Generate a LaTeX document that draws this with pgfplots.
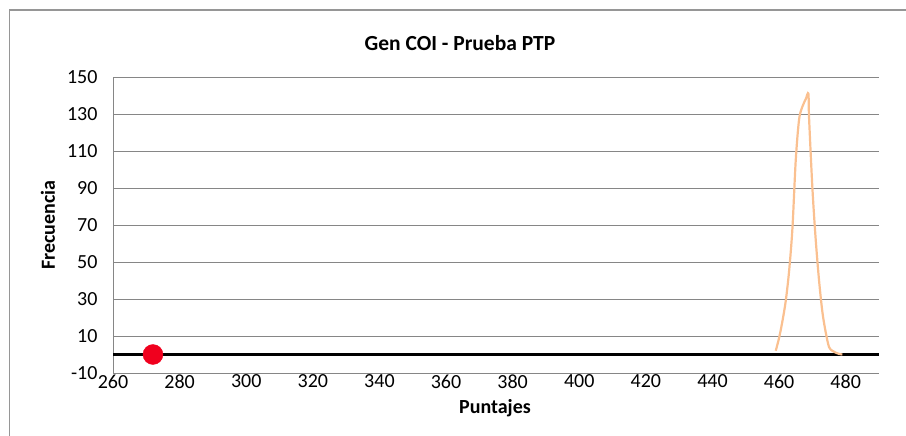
\documentclass[border=0pt]{standalone}
\usepackage{pgfplots}
\pgfplotsset{compat=1.18}
\usepackage{fontspec}
\setmainfont{Carlito}
\definecolor{gridgray}{RGB}{134,134,134}
\definecolor{framegray}{RGB}{150,150,150}
\definecolor{curveorange}{RGB}{250,192,144}
\definecolor{dotred}{RGB}{240,0,30}
\begin{document}
\begin{tikzpicture}[x=1pt,y=1pt]
\path[use as bounding box] (0,0) rectangle (906,436);
\draw[framegray, line width=1.5pt] (9.5,0) -- (9.5,426) -- (906,426);
\node[font=\fontsize{21.5}{21.5}\selectfont\bfseries] at (460,393) {Gen COI - Prueba PTP};
\node[font=\fontsize{20}{20}\selectfont\bfseries, rotate=90] at (48,211) {Frecuencia};
\node[font=\fontsize{20}{20}\selectfont\bfseries] at (495,28) {Puntajes};
\begin{axis}[at={(113pt,63pt)}, anchor=south west, width=766pt, height=296pt, scale only axis,
  xmin=260, xmax=490, ymin=-10, ymax=150,
  xtick={260,280,...,480}, ytick={-10,10,...,150},
  ymajorgrids, grid style={gridgray, line width=0.8pt},
  axis x line*=bottom, axis y line*=left,
  axis line style={gridgray, line width=0.8pt, -},
  major tick length=0pt,
  tick label style={font=\fontsize{20}{20}\selectfont},
  /pgf/number format/assume math mode=true,
  yticklabel style={xshift=-12pt},
  xticklabel style={yshift=2pt},
  clip=false]
\addplot[black, line width=2.2pt] coordinates {(260,0) (490,0)};
\addplot[curveorange, line width=2.2pt, smooth, tension=0.5] coordinates {
(459,2) (460,9) (461,18) (462,29) (463,45) (464,68) (465,105) (466,127)
(467,134) (468,138) (468.8,141) (469,128) (470,90) (471,62) (472,40)
(473,23) (474,12) (475,4) (476,2) (477,1) (478,0.3) (479,0)};
\addplot[only marks, mark=*, mark size=10pt, dotred] coordinates {(272,0)};
\end{axis}
\end{tikzpicture}
\end{document}
